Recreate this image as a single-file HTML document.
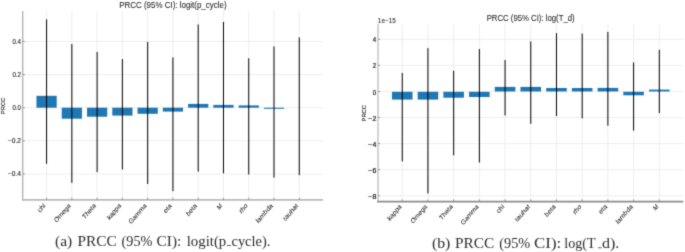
<!DOCTYPE html>
<html><head><meta charset="utf-8"><style>
html,body{margin:0;padding:0;background:#fff;}
body{width:685px;height:252px;overflow:hidden;}
svg{display:block;will-change:transform;font-family:"Liberation Sans", sans-serif;}
</style></head><body>
<svg width="685" height="252" viewBox="0 0 685 252">
<defs><filter id="bl" filterUnits="userSpaceOnUse" x="0" y="0" width="685" height="252" color-interpolation-filters="sRGB"><feConvolveMatrix order="3" kernelMatrix="1 5 1 5 25 5 1 5 1" divisor="49" edgeMode="duplicate"/></filter></defs>
<g filter="url(#bl)">
<rect width="685" height="252" fill="#fff"/>
<line x1="22.7" y1="41.5" x2="323" y2="41.5" stroke="#ececec" stroke-width="0.9"/>
<line x1="22.7" y1="74.6" x2="323" y2="74.6" stroke="#ececec" stroke-width="0.9"/>
<line x1="22.7" y1="107.7" x2="323" y2="107.7" stroke="#ececec" stroke-width="0.9"/>
<line x1="22.7" y1="140.8" x2="323" y2="140.8" stroke="#ececec" stroke-width="0.9"/>
<line x1="22.7" y1="173.9" x2="323" y2="173.9" stroke="#ececec" stroke-width="0.9"/>
<line x1="46.58" y1="11" x2="46.58" y2="199.6" stroke="#ececec" stroke-width="0.9"/>
<line x1="71.85" y1="11" x2="71.85" y2="199.6" stroke="#ececec" stroke-width="0.9"/>
<line x1="97.12" y1="11" x2="97.12" y2="199.6" stroke="#ececec" stroke-width="0.9"/>
<line x1="122.39" y1="11" x2="122.39" y2="199.6" stroke="#ececec" stroke-width="0.9"/>
<line x1="147.66" y1="11" x2="147.66" y2="199.6" stroke="#ececec" stroke-width="0.9"/>
<line x1="172.93" y1="11" x2="172.93" y2="199.6" stroke="#ececec" stroke-width="0.9"/>
<line x1="198.2" y1="11" x2="198.2" y2="199.6" stroke="#ececec" stroke-width="0.9"/>
<line x1="223.47" y1="11" x2="223.47" y2="199.6" stroke="#ececec" stroke-width="0.9"/>
<line x1="248.74" y1="11" x2="248.74" y2="199.6" stroke="#ececec" stroke-width="0.9"/>
<line x1="274.01" y1="11" x2="274.01" y2="199.6" stroke="#ececec" stroke-width="0.9"/>
<line x1="299.28" y1="11" x2="299.28" y2="199.6" stroke="#ececec" stroke-width="0.9"/>
<rect x="36.47" y="95.8" width="20.22" height="11.9" fill="#1f77b4"/>
<rect x="61.74" y="107.7" width="20.22" height="11" fill="#1f77b4"/>
<rect x="87.01" y="107.7" width="20.22" height="9" fill="#1f77b4"/>
<rect x="112.28" y="107.7" width="20.22" height="7.9" fill="#1f77b4"/>
<rect x="137.55" y="107.7" width="20.22" height="6.1" fill="#1f77b4"/>
<rect x="162.82" y="107.7" width="20.22" height="3.9" fill="#1f77b4"/>
<rect x="188.09" y="103.9" width="20.22" height="3.8" fill="#1f77b4"/>
<rect x="213.36" y="104.9" width="20.22" height="2.8" fill="#1f77b4"/>
<rect x="238.63" y="105.4" width="20.22" height="2.3" fill="#1f77b4"/>
<rect x="263.9" y="107.7" width="20.22" height="1.1" fill="#1f77b4"/>
<line x1="46.58" y1="19.3" x2="46.58" y2="163.8" stroke="#000000" stroke-width="1.0"/>
<line x1="71.85" y1="44" x2="71.85" y2="182.9" stroke="#000000" stroke-width="1.0"/>
<line x1="97.12" y1="51.9" x2="97.12" y2="172.1" stroke="#000000" stroke-width="1.0"/>
<line x1="122.39" y1="59" x2="122.39" y2="169.5" stroke="#000000" stroke-width="1.0"/>
<line x1="147.66" y1="41.9" x2="147.66" y2="184" stroke="#000000" stroke-width="1.0"/>
<line x1="172.93" y1="57.4" x2="172.93" y2="191.2" stroke="#000000" stroke-width="1.0"/>
<line x1="198.2" y1="24.5" x2="198.2" y2="171.7" stroke="#000000" stroke-width="1.0"/>
<line x1="223.47" y1="21.9" x2="223.47" y2="173.3" stroke="#000000" stroke-width="1.0"/>
<line x1="248.74" y1="58.3" x2="248.74" y2="174.5" stroke="#000000" stroke-width="1.0"/>
<line x1="274.01" y1="46.4" x2="274.01" y2="177.6" stroke="#000000" stroke-width="1.0"/>
<line x1="299.28" y1="37.4" x2="299.28" y2="175.2" stroke="#000000" stroke-width="1.0"/>
<line x1="22.7" y1="11" x2="22.7" y2="200.7" stroke="#b4b4b4" stroke-width="1.4"/>
<line x1="22" y1="199.85" x2="323" y2="199.85" stroke="#bababa" stroke-width="1.7"/>
<line x1="22.7" y1="41.5" x2="24.9" y2="41.5" stroke="#888" stroke-width="0.8"/>
<text font-size="5.72" text-anchor="end" fill="#1e1e1e" stroke="#1e1e1e" stroke-width="0.1" textLength="8.59" lengthAdjust="spacingAndGlyphs" transform="translate(21 43.8) scale(1 1.16)">0.4</text>
<line x1="22.7" y1="74.6" x2="24.9" y2="74.6" stroke="#888" stroke-width="0.8"/>
<text font-size="5.72" text-anchor="end" fill="#1e1e1e" stroke="#1e1e1e" stroke-width="0.1" textLength="8.59" lengthAdjust="spacingAndGlyphs" transform="translate(21 76.9) scale(1 1.16)">0.2</text>
<line x1="22.7" y1="107.7" x2="24.9" y2="107.7" stroke="#888" stroke-width="0.8"/>
<text font-size="5.72" text-anchor="end" fill="#1e1e1e" stroke="#1e1e1e" stroke-width="0.1" textLength="8.59" lengthAdjust="spacingAndGlyphs" transform="translate(21 110) scale(1 1.16)">0.0</text>
<line x1="22.7" y1="140.8" x2="24.9" y2="140.8" stroke="#888" stroke-width="0.8"/>
<text font-size="5.72" text-anchor="end" fill="#1e1e1e" stroke="#1e1e1e" stroke-width="0.1" textLength="13.11" lengthAdjust="spacingAndGlyphs" transform="translate(21 143.1) scale(1 1.16)">−0.2</text>
<line x1="22.7" y1="173.9" x2="24.9" y2="173.9" stroke="#888" stroke-width="0.8"/>
<text font-size="5.72" text-anchor="end" fill="#1e1e1e" stroke="#1e1e1e" stroke-width="0.1" textLength="13.11" lengthAdjust="spacingAndGlyphs" transform="translate(21 176.2) scale(1 1.16)">−0.4</text>
<line x1="46.58" y1="199.85" x2="46.58" y2="197.7" stroke="#888" stroke-width="0.9"/>
<text font-size="5.99" text-anchor="end" fill="#1c1c1c" stroke="#1c1c1c" stroke-width="0.05" textLength="8.26" lengthAdjust="spacingAndGlyphs" transform="translate(45.78 206.2) scale(1 1.16) rotate(-45)">chi</text>
<line x1="71.85" y1="199.85" x2="71.85" y2="197.7" stroke="#888" stroke-width="0.9"/>
<text font-size="5.99" text-anchor="end" fill="#1c1c1c" stroke="#1c1c1c" stroke-width="0.05" textLength="20.48" lengthAdjust="spacingAndGlyphs" transform="translate(71.05 206.2) scale(1 1.16) rotate(-45)">Omega</text>
<line x1="97.12" y1="199.85" x2="97.12" y2="197.7" stroke="#888" stroke-width="0.9"/>
<text font-size="5.99" text-anchor="end" fill="#1c1c1c" stroke="#1c1c1c" stroke-width="0.05" textLength="16.19" lengthAdjust="spacingAndGlyphs" transform="translate(96.32 206.2) scale(1 1.16) rotate(-45)">Theta</text>
<line x1="122.39" y1="199.85" x2="122.39" y2="197.7" stroke="#888" stroke-width="0.9"/>
<text font-size="5.99" text-anchor="end" fill="#1c1c1c" stroke="#1c1c1c" stroke-width="0.05" textLength="17.27" lengthAdjust="spacingAndGlyphs" transform="translate(121.59 206.2) scale(1 1.16) rotate(-45)">kappa</text>
<line x1="147.66" y1="199.85" x2="147.66" y2="197.7" stroke="#888" stroke-width="0.9"/>
<text font-size="5.99" text-anchor="end" fill="#1c1c1c" stroke="#1c1c1c" stroke-width="0.05" textLength="22.31" lengthAdjust="spacingAndGlyphs" transform="translate(146.86 206.2) scale(1 1.16) rotate(-45)">Gamma</text>
<line x1="172.93" y1="199.85" x2="172.93" y2="197.7" stroke="#888" stroke-width="0.9"/>
<text font-size="5.99" text-anchor="end" fill="#1c1c1c" stroke="#1c1c1c" stroke-width="0.05" textLength="9.15" lengthAdjust="spacingAndGlyphs" transform="translate(172.13 206.2) scale(1 1.16) rotate(-45)">eta</text>
<line x1="198.2" y1="199.85" x2="198.2" y2="197.7" stroke="#888" stroke-width="0.9"/>
<text font-size="5.99" text-anchor="end" fill="#1c1c1c" stroke="#1c1c1c" stroke-width="0.05" textLength="12.74" lengthAdjust="spacingAndGlyphs" transform="translate(197.4 206.2) scale(1 1.16) rotate(-45)">beta</text>
<line x1="223.47" y1="199.85" x2="223.47" y2="197.7" stroke="#888" stroke-width="0.9"/>
<text font-size="5.99" text-anchor="end" fill="#1c1c1c" stroke="#1c1c1c" stroke-width="0.05" textLength="4.87" lengthAdjust="spacingAndGlyphs" transform="translate(222.67 206.2) scale(1 1.16) rotate(-45)">M</text>
<line x1="248.74" y1="199.85" x2="248.74" y2="197.7" stroke="#888" stroke-width="0.9"/>
<text font-size="5.99" text-anchor="end" fill="#1c1c1c" stroke="#1c1c1c" stroke-width="0.05" textLength="9.26" lengthAdjust="spacingAndGlyphs" transform="translate(247.94 206.2) scale(1 1.16) rotate(-45)">rho</text>
<line x1="274.01" y1="199.85" x2="274.01" y2="197.7" stroke="#888" stroke-width="0.9"/>
<text font-size="5.99" text-anchor="end" fill="#1c1c1c" stroke="#1c1c1c" stroke-width="0.05" textLength="21.17" lengthAdjust="spacingAndGlyphs" transform="translate(273.21 206.2) scale(1 1.16) rotate(-45)">lambda</text>
<line x1="299.28" y1="199.85" x2="299.28" y2="197.7" stroke="#888" stroke-width="0.9"/>
<text font-size="5.99" text-anchor="end" fill="#1c1c1c" stroke="#1c1c1c" stroke-width="0.05" textLength="18.52" lengthAdjust="spacingAndGlyphs" transform="translate(298.48 206.2) scale(1 1.16) rotate(-45)">tauhat</text>
<text font-size="5.72" text-anchor="middle" fill="#1e1e1e" stroke="#1e1e1e" stroke-width="0.15" textLength="14.28" lengthAdjust="spacingAndGlyphs" transform="translate(4.6 105.9) scale(1 1.16) rotate(-90)">PRCC</text>
<text font-size="7.78" text-anchor="middle" fill="#1e1e1e" stroke="#1e1e1e" stroke-width="0.06" textLength="107.35" lengthAdjust="spacingAndGlyphs" transform="translate(172.85 7.9) scale(1 1.16)">PRCC (95% CI): logit(p_cycle)</text>
<line x1="378" y1="39.31" x2="683.3" y2="39.31" stroke="#ececec" stroke-width="0.9"/>
<line x1="378" y1="65.39" x2="683.3" y2="65.39" stroke="#ececec" stroke-width="0.9"/>
<line x1="378" y1="91.47" x2="683.3" y2="91.47" stroke="#ececec" stroke-width="0.9"/>
<line x1="378" y1="117.55" x2="683.3" y2="117.55" stroke="#ececec" stroke-width="0.9"/>
<line x1="378" y1="143.63" x2="683.3" y2="143.63" stroke="#ececec" stroke-width="0.9"/>
<line x1="378" y1="169.71" x2="683.3" y2="169.71" stroke="#ececec" stroke-width="0.9"/>
<line x1="378" y1="195.79" x2="683.3" y2="195.79" stroke="#ececec" stroke-width="0.9"/>
<line x1="402.25" y1="24" x2="402.25" y2="201.4" stroke="#ececec" stroke-width="0.9"/>
<line x1="427.95" y1="24" x2="427.95" y2="201.4" stroke="#ececec" stroke-width="0.9"/>
<line x1="453.66" y1="24" x2="453.66" y2="201.4" stroke="#ececec" stroke-width="0.9"/>
<line x1="479.37" y1="24" x2="479.37" y2="201.4" stroke="#ececec" stroke-width="0.9"/>
<line x1="505.07" y1="24" x2="505.07" y2="201.4" stroke="#ececec" stroke-width="0.9"/>
<line x1="530.77" y1="24" x2="530.77" y2="201.4" stroke="#ececec" stroke-width="0.9"/>
<line x1="556.48" y1="24" x2="556.48" y2="201.4" stroke="#ececec" stroke-width="0.9"/>
<line x1="582.18" y1="24" x2="582.18" y2="201.4" stroke="#ececec" stroke-width="0.9"/>
<line x1="607.89" y1="24" x2="607.89" y2="201.4" stroke="#ececec" stroke-width="0.9"/>
<line x1="633.6" y1="24" x2="633.6" y2="201.4" stroke="#ececec" stroke-width="0.9"/>
<line x1="659.3" y1="24" x2="659.3" y2="201.4" stroke="#ececec" stroke-width="0.9"/>
<rect x="391.97" y="91.8" width="20.56" height="7.8" fill="#1f77b4"/>
<rect x="417.67" y="91.8" width="20.56" height="7.8" fill="#1f77b4"/>
<rect x="443.38" y="91.8" width="20.56" height="5.9" fill="#1f77b4"/>
<rect x="469.08" y="91.8" width="20.56" height="5.2" fill="#1f77b4"/>
<rect x="494.79" y="86.9" width="20.56" height="4.57" fill="#1f77b4"/>
<rect x="520.49" y="86.9" width="20.56" height="4.57" fill="#1f77b4"/>
<rect x="546.2" y="88" width="20.56" height="3.47" fill="#1f77b4"/>
<rect x="571.9" y="88" width="20.56" height="3.47" fill="#1f77b4"/>
<rect x="597.61" y="87.9" width="20.56" height="3.57" fill="#1f77b4"/>
<rect x="623.31" y="91.8" width="20.56" height="3.5" fill="#1f77b4"/>
<rect x="649.02" y="89.6" width="20.56" height="1.87" fill="#1f77b4"/>
<line x1="402.25" y1="72.9" x2="402.25" y2="161.4" stroke="#000000" stroke-width="1.0"/>
<line x1="427.95" y1="48.1" x2="427.95" y2="193.5" stroke="#000000" stroke-width="1.0"/>
<line x1="453.66" y1="70.7" x2="453.66" y2="155.3" stroke="#000000" stroke-width="1.0"/>
<line x1="479.37" y1="49" x2="479.37" y2="162.5" stroke="#000000" stroke-width="1.0"/>
<line x1="505.07" y1="60" x2="505.07" y2="115.5" stroke="#000000" stroke-width="1.0"/>
<line x1="530.77" y1="41.4" x2="530.77" y2="123.8" stroke="#000000" stroke-width="1.0"/>
<line x1="556.48" y1="33.1" x2="556.48" y2="116.1" stroke="#000000" stroke-width="1.0"/>
<line x1="582.18" y1="33.6" x2="582.18" y2="118.3" stroke="#000000" stroke-width="1.0"/>
<line x1="607.89" y1="31.9" x2="607.89" y2="125.7" stroke="#000000" stroke-width="1.0"/>
<line x1="633.6" y1="62.4" x2="633.6" y2="130.7" stroke="#000000" stroke-width="1.0"/>
<line x1="659.3" y1="49.8" x2="659.3" y2="113.1" stroke="#000000" stroke-width="1.0"/>
<line x1="378" y1="24" x2="378" y2="202.6" stroke="#c2c2c2" stroke-width="1.4"/>
<line x1="377.3" y1="201.7" x2="683.3" y2="201.7" stroke="#8c8c8c" stroke-width="1.8"/>
<line x1="378" y1="39.31" x2="380.2" y2="39.31" stroke="#888" stroke-width="0.8"/>
<text font-size="5.72" text-anchor="end" fill="#1e1e1e" stroke="#1e1e1e" stroke-width="0.2" textLength="3.44" lengthAdjust="spacingAndGlyphs" transform="translate(376.3 42.41) scale(1 1.16)">4</text>
<line x1="378" y1="65.39" x2="380.2" y2="65.39" stroke="#888" stroke-width="0.8"/>
<text font-size="5.72" text-anchor="end" fill="#1e1e1e" stroke="#1e1e1e" stroke-width="0.2" textLength="3.44" lengthAdjust="spacingAndGlyphs" transform="translate(376.3 68.49) scale(1 1.16)">2</text>
<line x1="378" y1="91.47" x2="380.2" y2="91.47" stroke="#888" stroke-width="0.8"/>
<text font-size="5.72" text-anchor="end" fill="#1e1e1e" stroke="#1e1e1e" stroke-width="0.2" textLength="3.44" lengthAdjust="spacingAndGlyphs" transform="translate(376.3 94.57) scale(1 1.16)">0</text>
<line x1="378" y1="117.55" x2="380.2" y2="117.55" stroke="#888" stroke-width="0.8"/>
<text font-size="5.72" text-anchor="end" fill="#1e1e1e" stroke="#1e1e1e" stroke-width="0.2" textLength="7.96" lengthAdjust="spacingAndGlyphs" transform="translate(376.3 120.65) scale(1 1.16)">−2</text>
<line x1="378" y1="143.63" x2="380.2" y2="143.63" stroke="#888" stroke-width="0.8"/>
<text font-size="5.72" text-anchor="end" fill="#1e1e1e" stroke="#1e1e1e" stroke-width="0.2" textLength="7.96" lengthAdjust="spacingAndGlyphs" transform="translate(376.3 146.73) scale(1 1.16)">−4</text>
<line x1="378" y1="169.71" x2="380.2" y2="169.71" stroke="#888" stroke-width="0.8"/>
<text font-size="5.72" text-anchor="end" fill="#1e1e1e" stroke="#1e1e1e" stroke-width="0.2" textLength="7.96" lengthAdjust="spacingAndGlyphs" transform="translate(376.3 172.81) scale(1 1.16)">−6</text>
<line x1="378" y1="195.79" x2="380.2" y2="195.79" stroke="#888" stroke-width="0.8"/>
<text font-size="5.72" text-anchor="end" fill="#1e1e1e" stroke="#1e1e1e" stroke-width="0.2" textLength="7.96" lengthAdjust="spacingAndGlyphs" transform="translate(376.3 198.89) scale(1 1.16)">−8</text>
<line x1="402.25" y1="201.7" x2="402.25" y2="199.5" stroke="#888" stroke-width="0.9"/>
<text font-size="5.99" text-anchor="end" fill="#1c1c1c" stroke="#1c1c1c" stroke-width="0.05" textLength="17.27" lengthAdjust="spacingAndGlyphs" transform="translate(401.85 207.1) scale(1 1.16) rotate(-45)">kappa</text>
<line x1="427.95" y1="201.7" x2="427.95" y2="199.5" stroke="#888" stroke-width="0.9"/>
<text font-size="5.99" text-anchor="end" fill="#1c1c1c" stroke="#1c1c1c" stroke-width="0.05" textLength="20.48" lengthAdjust="spacingAndGlyphs" transform="translate(427.55 207.1) scale(1 1.16) rotate(-45)">Omega</text>
<line x1="453.66" y1="201.7" x2="453.66" y2="199.5" stroke="#888" stroke-width="0.9"/>
<text font-size="5.99" text-anchor="end" fill="#1c1c1c" stroke="#1c1c1c" stroke-width="0.05" textLength="16.19" lengthAdjust="spacingAndGlyphs" transform="translate(453.26 207.1) scale(1 1.16) rotate(-45)">Theta</text>
<line x1="479.37" y1="201.7" x2="479.37" y2="199.5" stroke="#888" stroke-width="0.9"/>
<text font-size="5.99" text-anchor="end" fill="#1c1c1c" stroke="#1c1c1c" stroke-width="0.05" textLength="22.31" lengthAdjust="spacingAndGlyphs" transform="translate(478.96 207.1) scale(1 1.16) rotate(-45)">Gamma</text>
<line x1="505.07" y1="201.7" x2="505.07" y2="199.5" stroke="#888" stroke-width="0.9"/>
<text font-size="5.99" text-anchor="end" fill="#1c1c1c" stroke="#1c1c1c" stroke-width="0.05" textLength="8.26" lengthAdjust="spacingAndGlyphs" transform="translate(504.67 207.1) scale(1 1.16) rotate(-45)">chi</text>
<line x1="530.77" y1="201.7" x2="530.77" y2="199.5" stroke="#888" stroke-width="0.9"/>
<text font-size="5.99" text-anchor="end" fill="#1c1c1c" stroke="#1c1c1c" stroke-width="0.05" textLength="18.52" lengthAdjust="spacingAndGlyphs" transform="translate(530.38 207.1) scale(1 1.16) rotate(-45)">tauhat</text>
<line x1="556.48" y1="201.7" x2="556.48" y2="199.5" stroke="#888" stroke-width="0.9"/>
<text font-size="5.99" text-anchor="end" fill="#1c1c1c" stroke="#1c1c1c" stroke-width="0.05" textLength="12.74" lengthAdjust="spacingAndGlyphs" transform="translate(556.08 207.1) scale(1 1.16) rotate(-45)">beta</text>
<line x1="582.18" y1="201.7" x2="582.18" y2="199.5" stroke="#888" stroke-width="0.9"/>
<text font-size="5.99" text-anchor="end" fill="#1c1c1c" stroke="#1c1c1c" stroke-width="0.05" textLength="9.26" lengthAdjust="spacingAndGlyphs" transform="translate(581.78 207.1) scale(1 1.16) rotate(-45)">rho</text>
<line x1="607.89" y1="201.7" x2="607.89" y2="199.5" stroke="#888" stroke-width="0.9"/>
<text font-size="5.99" text-anchor="end" fill="#1c1c1c" stroke="#1c1c1c" stroke-width="0.05" textLength="9.15" lengthAdjust="spacingAndGlyphs" transform="translate(607.49 207.1) scale(1 1.16) rotate(-45)">eta</text>
<line x1="633.6" y1="201.7" x2="633.6" y2="199.5" stroke="#888" stroke-width="0.9"/>
<text font-size="5.99" text-anchor="end" fill="#1c1c1c" stroke="#1c1c1c" stroke-width="0.05" textLength="21.17" lengthAdjust="spacingAndGlyphs" transform="translate(633.2 207.1) scale(1 1.16) rotate(-45)">lambda</text>
<line x1="659.3" y1="201.7" x2="659.3" y2="199.5" stroke="#888" stroke-width="0.9"/>
<text font-size="5.99" text-anchor="end" fill="#1c1c1c" stroke="#1c1c1c" stroke-width="0.05" textLength="4.87" lengthAdjust="spacingAndGlyphs" transform="translate(658.9 207.1) scale(1 1.16) rotate(-45)">M</text>
<text font-size="5.72" text-anchor="middle" fill="#1e1e1e" stroke="#1e1e1e" stroke-width="0.15" textLength="14.28" lengthAdjust="spacingAndGlyphs" transform="translate(365.5 113.25) scale(1 1.16) rotate(-90)">PRCC</text>
<text font-size="7.78" text-anchor="middle" fill="#1e1e1e" stroke="#1e1e1e" stroke-width="0.06" textLength="87.94" lengthAdjust="spacingAndGlyphs" transform="translate(530.65 20.9) scale(1 1.16)">PRCC (95% CI): log(T_d)</text>
<text font-size="5.72" text-anchor="start" fill="#1e1e1e" stroke="#1e1e1e" stroke-width="0.04" textLength="18.15" lengthAdjust="spacingAndGlyphs" transform="translate(377.8 22.7) scale(1 1.16)">1e−15</text>
<text font-size="13.6" text-anchor="start" fill="#2c2c2c" font-family='"Liberation Serif", serif' textLength="17.16" lengthAdjust="spacingAndGlyphs" transform="translate(55.02 246.2)">(a)</text>
<text font-size="13.6" text-anchor="start" fill="#2c2c2c" font-family='"Liberation Serif", serif' textLength="39.09" lengthAdjust="spacingAndGlyphs" transform="translate(77.56 246.2)">PRCC</text>
<text font-size="13.6" text-anchor="start" fill="#2c2c2c" font-family='"Liberation Serif", serif' textLength="30.91" lengthAdjust="spacingAndGlyphs" transform="translate(121.57 246.2)">(95%</text>
<text font-size="13.6" text-anchor="start" fill="#2c2c2c" font-family='"Liberation Serif", serif' textLength="24.67" lengthAdjust="spacingAndGlyphs" transform="translate(156.57 246.2)">CI):</text>
<text font-size="13.6" text-anchor="start" fill="#2c2c2c" font-family='"Liberation Serif", serif' textLength="39.57" lengthAdjust="spacingAndGlyphs" transform="translate(186.7 246.2)">logit(p</text>
<text font-size="13.6" text-anchor="start" fill="#2c2c2c" font-family='"Liberation Serif", serif' textLength="39.01" lengthAdjust="spacingAndGlyphs" transform="translate(231.45 246.2)">cycle).</text>
<rect x="226.9" y="245.15" width="4" height="0.75" fill="#2c2c2c"/>
<text font-size="13.6" text-anchor="start" fill="#2c2c2c" font-family='"Liberation Serif", serif' textLength="18.5" lengthAdjust="spacingAndGlyphs" transform="translate(431.9 247.5)">(b)</text>
<text font-size="13.6" text-anchor="start" fill="#2c2c2c" font-family='"Liberation Serif", serif' textLength="39.29" lengthAdjust="spacingAndGlyphs" transform="translate(455.05 247.5)">PRCC</text>
<text font-size="13.6" text-anchor="start" fill="#2c2c2c" font-family='"Liberation Serif", serif' textLength="31.02" lengthAdjust="spacingAndGlyphs" transform="translate(499.27 247.5)">(95%</text>
<text font-size="13.6" text-anchor="start" fill="#2c2c2c" font-family='"Liberation Serif", serif' textLength="27.05" lengthAdjust="spacingAndGlyphs" transform="translate(534.11 247.5)">CI):</text>
<text font-size="13.6" text-anchor="start" fill="#2c2c2c" font-family='"Liberation Serif", serif' textLength="31.42" lengthAdjust="spacingAndGlyphs" transform="translate(564.22 247.5)">log(T</text>
<text font-size="13.6" text-anchor="start" fill="#2c2c2c" font-family='"Liberation Serif", serif' textLength="17.33" lengthAdjust="spacingAndGlyphs" transform="translate(601.92 247.5)">d).</text>
<rect x="598" y="247.45" width="3.8" height="0.75" fill="#2c2c2c"/>
</g>
</svg>
</body></html>
